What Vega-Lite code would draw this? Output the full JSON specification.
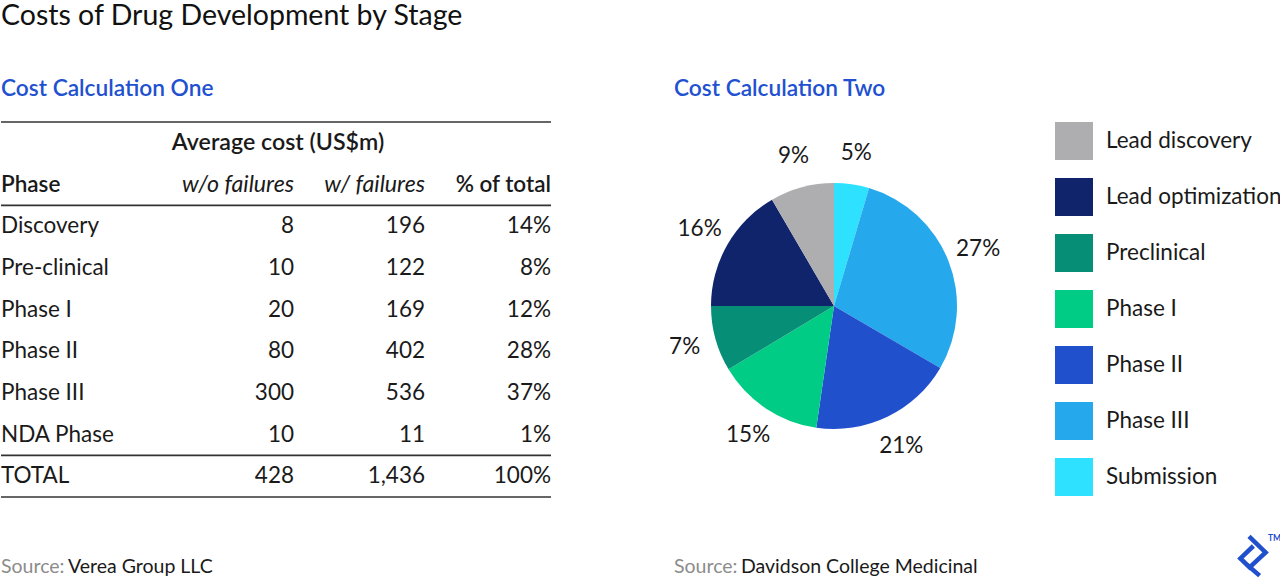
{
  "$schema": "https://vega.github.io/schema/vega-lite/v6.json",
  "padding": {"top": 1, "left": 0, "right": 0, "bottom": 0},
  "background": "white",
  "title": {"text": "Costs of Drug Development by Stage", "anchor": "start", "frame": "group", "fontSize": 28.5, "font": "Lato", "fontWeight": 400, "color": "#111111", "baseline": "top", "offset": 48},
  "config": {"view": {"stroke": null}, "font": "Lato", "text": {"font": "Lato", "fontSize": 22.5, "color": "#1a1a1a"}},
  "spacing": 117,
  "datasets": {
    "table": [
      {"row": 2, "Phase": "Discovery", "wo": 8, "w": 196, "pct": 0.14},
      {"row": 3, "Phase": "Pre-clinical", "wo": 10, "w": 122, "pct": 0.08},
      {"row": 4, "Phase": "Phase I", "wo": 20, "w": 169, "pct": 0.12},
      {"row": 5, "Phase": "Phase II", "wo": 80, "w": 402, "pct": 0.28},
      {"row": 6, "Phase": "Phase III", "wo": 300, "w": 536, "pct": 0.37},
      {"row": 7, "Phase": "NDA Phase", "wo": 10, "w": 11, "pct": 0.01},
      {"row": 8, "Phase": "TOTAL", "wo": 428, "w": 1436, "pct": 1.0}
    ],
    "headers": [
      {"row": 0, "label": "Average cost (US$m)"},
      {"row": 1, "col": 0, "label": "Phase"},
      {"row": 1, "col": 1, "label": "w/o failures"},
      {"row": 1, "col": 2, "label": "w/ failures"},
      {"row": 1, "col": 3, "label": "% of total"}
    ],
    "rules": [{"row": -0.5}, {"row": 1.5}, {"row": 7.5}, {"row": 8.5}],
    "pie": [
      {"k": 1, "stage": "Submission", "share": 4.6, "label": "5%"},
      {"k": 2, "stage": "Phase III", "share": 28.8, "label": "27%"},
      {"k": 3, "stage": "Phase II", "share": 18.9, "label": "21%"},
      {"k": 4, "stage": "Phase I", "share": 14.1, "label": "15%"},
      {"k": 5, "stage": "Preclinical", "share": 8.6, "label": "7%"},
      {"k": 6, "stage": "Lead optimization", "share": 16.6, "label": "16%"},
      {"k": 7, "stage": "Lead discovery", "share": 8.4, "label": "9%"}
    ],
    "src1": [{"label": "Source:", "name": "Verea Group LLC"}],
    "src2": [{"label": "Source:", "name": "Davidson College Medicinal"}],
    "logo": [{"brand": "toptal", "tm": "TM"}]
  },
  "hconcat": [
    {
      "width": 550,
      "height": 392,
      "title": {"text": "Cost Calculation One", "anchor": "start", "frame": "group", "fontSize": 22.7, "fontWeight": 600, "color": "#2150D0", "baseline": "alphabetic", "offset": -9},
      "layer": [
        {
          "data": {"name": "rules"},
          "mark": {"type": "rule", "stroke": "#333333", "strokeWidth": 1.6},
          "encoding": {"y": {"field": "row", "type": "quantitative", "scale": {"domain": [-0.5, 8.5], "range": [12, 387], "nice": false, "zero": false}, "axis": null}}
        },
        {
          "data": {"name": "headers"},
          "transform": [{"filter": "datum.row == 0"}],
          "mark": {"type": "text", "align": "center", "baseline": "middle", "fontWeight": 600, "fontSize": 23.2, "x": 277},
          "encoding": {"y": {"field": "row", "type": "quantitative"}, "text": {"field": "label"}}
        },
        {
          "data": {"name": "headers"},
          "transform": [{"filter": "datum.row == 1 && datum.col == 0"}],
          "mark": {"type": "text", "align": "left", "baseline": "middle", "fontWeight": 600},
          "encoding": {"x": {"field": "col", "type": "quantitative", "scale": {"domain": [0, 1, 2, 3], "range": [0, 293, 424, 550], "nice": false, "zero": false}, "axis": null}, "y": {"field": "row", "type": "quantitative"}, "text": {"field": "label"}}
        },
        {
          "data": {"name": "headers"},
          "transform": [{"filter": "datum.row == 1 && (datum.col == 1 || datum.col == 2)"}],
          "mark": {"type": "text", "align": "right", "baseline": "middle", "fontStyle": "italic", "fontWeight": 400, "fontSize": 23.2},
          "encoding": {"x": {"field": "col", "type": "quantitative"}, "y": {"field": "row", "type": "quantitative"}, "text": {"field": "label"}}
        },
        {
          "data": {"name": "headers"},
          "transform": [{"filter": "datum.row == 1 && datum.col == 3"}],
          "mark": {"type": "text", "align": "right", "baseline": "middle", "fontWeight": 600},
          "encoding": {"x": {"field": "col", "type": "quantitative"}, "y": {"field": "row", "type": "quantitative"}, "text": {"field": "label"}}
        },
        {
          "data": {"name": "table"},
          "mark": {"type": "text", "align": "left", "baseline": "middle"},
          "encoding": {"x": {"datum": 0, "type": "quantitative"}, "y": {"field": "row", "type": "quantitative"}, "text": {"field": "Phase"}}
        },
        {
          "data": {"name": "table"},
          "mark": {"type": "text", "align": "right", "baseline": "middle"},
          "encoding": {"x": {"datum": 1, "type": "quantitative"}, "y": {"field": "row", "type": "quantitative"}, "text": {"field": "wo", "type": "quantitative", "format": ","}}
        },
        {
          "data": {"name": "table"},
          "mark": {"type": "text", "align": "right", "baseline": "middle"},
          "encoding": {"x": {"datum": 2, "type": "quantitative"}, "y": {"field": "row", "type": "quantitative"}, "text": {"field": "w", "type": "quantitative", "format": ","}}
        },
        {
          "data": {"name": "table"},
          "mark": {"type": "text", "align": "right", "baseline": "middle"},
          "encoding": {"x": {"datum": 3, "type": "quantitative"}, "y": {"field": "row", "type": "quantitative"}, "text": {"field": "pct", "type": "quantitative", "format": ".0%"}}
        },
        {
          "data": {"name": "src1"},
          "mark": {"type": "text", "align": "left", "baseline": "alphabetic", "fontSize": 19.5, "color": "#8c8c8c", "x": 0, "y": 463},
          "encoding": {"text": {"field": "label"}}
        },
        {
          "data": {"name": "src1"},
          "mark": {"type": "text", "align": "left", "baseline": "alphabetic", "fontSize": 19.5, "color": "#1a1a1a", "x": 0, "dx": 67, "y": 463},
          "encoding": {"text": {"field": "name"}}
        }
      ]
    },
    {
      "width": 320,
      "height": 392,
      "title": {"text": "Cost Calculation Two", "anchor": "start", "frame": "group", "fontSize": 22.7, "fontWeight": 600, "color": "#2150D0", "baseline": "alphabetic", "offset": -9},
      "layer": [
        {
          "data": {"name": "pie"},
          "mark": {"type": "arc", "outerRadius": 123},
          "encoding": {
            "theta": {"field": "share", "type": "quantitative", "stack": true},
            "order": {"field": "k", "type": "quantitative"},
            "color": {
              "field": "stage", "type": "nominal",
              "scale": {
                "domain": ["Lead discovery", "Lead optimization", "Preclinical", "Phase I", "Phase II", "Phase III", "Submission"],
                "range": ["#AEAEB0", "#10246B", "#068F76", "#00CC85", "#2150CD", "#26A8EC", "#2EE2FF"]
              },
              "legend": {"orient": "none", "legendX": 1054, "legendY": 12, "title": null, "symbolType": "square", "symbolSize": 1444, "symbolStrokeWidth": 0, "symbolOpacity": 1, "labelFontSize": 22.5, "labelFont": "Lato", "labelColor": "#1a1a1a", "rowPadding": 18, "labelOffset": 13, "padding": 0, "labelLimit": 300}
            }
          }
        },
        {
          "data": {"name": "pie"},
          "mark": {"type": "text", "radius": 155, "align": "center", "baseline": "middle"},
          "encoding": {
            "theta": {"field": "share", "type": "quantitative", "stack": true},
            "order": {"field": "k", "type": "quantitative"},
            "detail": {"field": "stage"},
            "text": {"field": "label"}
          }
        },
        {
          "data": {"name": "src2"},
          "mark": {"type": "text", "align": "left", "baseline": "alphabetic", "fontSize": 19.5, "color": "#8c8c8c", "x": 0, "y": 463},
          "encoding": {"text": {"field": "label"}}
        },
        {
          "data": {"name": "src2"},
          "mark": {"type": "text", "align": "left", "baseline": "alphabetic", "fontSize": 19.5, "color": "#1a1a1a", "x": 0, "dx": 67, "y": 463},
          "encoding": {"text": {"field": "name"}}
        },
        {
          "data": {"name": "logo"},
          "mark": {"type": "point", "shape": "M-0.2,-0.93L0.63,-0.13L-0.17,0.62L-0.63,0.17L0.02,-0.45M-0.4,0.4L0.33,1.03", "size": 1600, "filled": false, "stroke": "#2150CD", "strokeWidth": 4.5, "strokeJoin": "miter", "strokeCap": "butt", "opacity": 1, "x": 579, "y": 445},
          "encoding": {"detail": {"field": "brand"}}
        },
        {
          "data": {"name": "logo"},
          "mark": {"type": "text", "align": "left", "baseline": "alphabetic", "fontSize": 8.5, "fontWeight": 700, "color": "#2150CD", "x": 594, "y": 431},
          "encoding": {"text": {"field": "tm"}}
        }
      ]
    }
  ]
}
